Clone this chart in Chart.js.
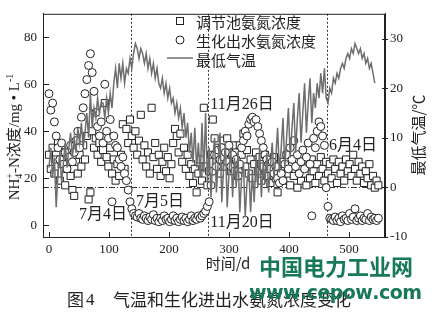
<!DOCTYPE html>
<html>
<head>
<meta charset="utf-8">
<script src="https://cdn.jsdelivr.net/npm/chart.js@4.4.1/dist/chart.umd.min.js"></script>
<style>
  html, body { margin: 0; padding: 0; background: #fff; }
  #wrap { width: 436px; height: 323px; }
</style>
</head>
<body>
<div id="wrap"><canvas id="chart" width="436" height="323"></canvas></div>
<script>
// one reading every 3 days
const dayStep = 3;

// 调节池氨氮浓度, mg/L
const inletNH4 = [
  30, 24, 33, 22, 28, 35, 19, 26, 31, 17,
  24, 29, 21, 15, 12.5, 27, 22, 30, 25, 34,
  28, 38, 11, 14, 40, 33, 37, 30, 35, 27,
  32, 52, 29, 25, 33, 22, 28, 19, 26, 21,
  30, 43, 24, 41, 35, 45, 38, 33, 40, 30,
  36, 47, 28, 34, 25, 31, 22, 50, 29, 35,
  24, 30, 21, 27, 33, 23, 29, 20, 26, 35,
  41, 38, 31, 39, 27, 33, 24, 30, 21, 26,
  18, 24, 14, 22, 28, 19, 50, 25, 17, 23,
  30, 45, 37, 27, 33, 22, 29, 36, 25, 37,
  31, 23, 28, 34, 26, 21, 34, 30, 39, 25,
  32, 22, 28, 20, 26, 31, 23, 29, 19, 25,
  30, 21, 27, 18, 24, 29, 20, 14, 23, 27,
  19, 25, 30, 22, 17, 26, 21, 28, 16, 24,
  19, 27, 22, 17, 25, 20, 28, 23, 18, 26,
  21, 29, 24, 19, 27, 22, 26, 20, 28, 24,
  18, 27, 22, 25, 19, 28, 23, 26, 21, 30,
  24, 19, 27, 22, 25, 18, 23, 20, 26, 17,
  21, 16, 19, 17
];

// 生化出水氨氮浓度, mg/L
const effluentNH4 = [
  56, 49, 52, 44, 38, 33, 28, 35, 26, 31,
  24, 29, 34, 27, 31, 36, 40, 33, 46, 50,
  56, 62, 68, 73, 65, 57, 48, 42, 38, 44,
  35, 60, 40, 37, 45, 10, 38, 34, 33, 28,
  25, 29, 22, 19, 15, 10, 7, 5, 4, 3.5,
  5, 3, 2.5, 4, 3, 2, 3.5, 2.5, 4.5, 2,
  3, 1.5, 3, 2, 4, 2.5, 3, 1.5, 2.5, 4,
  2, 3, 1.5, 2.5, 3.5, 2, 3, 1.5, 2.5, 4,
  2, 3, 2.5, 4, 3, 4, 5, 6, 8, 10,
  17, 23, 30, 25, 32, 28, 33, 29, 31, 27,
  34, 25, 30, 23, 28, 21, 26, 33, 36, 40,
  38, 43, 45, 46, 44, 45, 42, 39, 36, 33,
  30, 28, 26, 24, 27, 22, 25, 20, 18, 22,
  19, 26, 30, 24, 33, 28, 36, 25, 30, 22,
  27, 32, 24, 29, 35, 26, 4, 37, 33, 40,
  44, 42, 38, 34, 16, 8, 3, 2.5, 2, 3.5,
  2, 3, 1.5, 4, 2.5, 3, 2, 5, 2.5, 3.5,
  7, 2, 3, 4, 2, 3, 2.5, 5, 2, 3.5,
  2.5, 3, 2, 3
];

// 最低气温, °C
const minTemp = [
  4, 8, 2, 6, -4, 3, 7, 1, 5, 9,
  4, 8, 11, 6, 10, 7, 12, 9, 13, 8,
  11, 15, 10, 19, 12, 16, 14, 18, 15, 17,
  17, 14, 18, 15, 19, 16, 21, 24, 20, 25,
  22, 25, 21, 24, 23, 26, 24, 27, 29, 28,
  26, 28, 27, 25, 27, 24, 26, 23, 25, 22,
  24, 21, 20, 22, 19, 21, 18, 20, 17, 18,
  15, 17, 14, 16, 12, 15, 10, 13, 7, 11,
  5, 12, 4, 9, 2, 13, 3, 15, 1, 8,
  -2, 6, 10, -1, 5, 11, -3, 4, 9, -4,
  3, 8, -2, 6, 0, 7, -5, 2, 5, -6,
  1, 4, -5, 3, -3, 6, 0, 8, -2, 5,
  1, 7, -1, 4, 9, 2, 6, 12, 3, 8,
  14, 4, 10, 16, 6, 12, 17, 7, 14, 19,
  9, 15, 21, 11, 17, 22, 13, 19, 16, 21,
  18, 23, 19, 24, 18, 17, 20, 19, 22, 21,
  23, 22, 24, 25, 24, 26, 27, 26, 28, 27,
  29, 28, 27, 28, 26, 27, 25, 26, 24, 25,
  23, 21
];

const eventDays = [137, 265, 463];
const xTicks = [0, 100, 200, 300, 400, 500];
const nh4Ticks = [0, 20, 40, 60, 80];
const tempTicks = [-10, 0, 10, 20, 30];

const seriesNames = ["调节池氨氮浓度", "生化出水氨氮浓度", "最低气温"];

const toPoints = arr => arr.map((v, i) => ({ x: i * dayStep, y: v }));

const INK = "#222";
const LINE_GRAY = "#6e6e6e";
const SERIF = "'Liberation Serif', 'Noto Sans CJK SC', serif";
const CJK = "'Noto Sans CJK SC', 'Liberation Serif', sans-serif";

function setTicks(list) {
  return scale => { scale.ticks = list.map(v => ({ value: v })); };
}

const decor = {
  id: "decor",
  beforeDatasetsDraw(chart) {
    const { ctx, chartArea: a, scales } = chart;
    ctx.save();
    ctx.strokeStyle = "#333";
    ctx.lineWidth = 1;
    // event markers
    ctx.setLineDash([2, 2]);
    eventDays.forEach(d => {
      const x = Math.round(scales.x.getPixelForValue(d)) + 0.5;
      ctx.beginPath();
      ctx.moveTo(x, a.top);
      ctx.lineTo(x, a.bottom);
      ctx.stroke();
    });
    // zero temperature
    ctx.setLineDash([6, 2, 1, 2]);
    const y0 = Math.round(scales.yT.getPixelForValue(0)) + 0.5;
    ctx.beginPath();
    ctx.moveTo(a.left, y0);
    ctx.lineTo(a.right, y0);
    ctx.stroke();
    ctx.setLineDash([]);

    // date notes
    ctx.fillStyle = INK;
    ctx.font = "16px " + SERIF;
    ctx.textAlign = "center";
    ctx.textBaseline = "middle";
    [
      ["7月4日", 103, 215],
      ["7月5日", 160, 202],
      ["11月20日", 242, 223],
      ["11月26日", 242, 105],
      ["6月4日", 353, 146]
    ].forEach(([t, x, y]) => ctx.fillText(t, x, y));
    ctx.restore();
  },
  afterDraw(chart) {
    const { ctx, chartArea: a, scales } = chart;
    ctx.save();
    ctx.strokeStyle = INK;
    ctx.lineWidth = 1;
    ctx.strokeRect(a.left + 0.5, a.top + 0.5, a.right - a.left - 1, a.bottom - a.top);

    // inward tick marks
    ctx.beginPath();
    scales.x.ticks.forEach(t => {
      const x = Math.round(scales.x.getPixelForValue(t.value)) + 0.5;
      ctx.moveTo(x, a.bottom);
      ctx.lineTo(x, a.bottom - 5);
    });
    scales.y.ticks.forEach(t => {
      const y = Math.round(scales.y.getPixelForValue(t.value)) + 0.5;
      ctx.moveTo(a.left, y);
      ctx.lineTo(a.left + 6, y);
    });
    scales.yT.ticks.forEach(t => {
      const y = Math.round(scales.yT.getPixelForValue(t.value)) + 0.5;
      ctx.moveTo(a.right - 3, y);
      ctx.lineTo(a.right + 3, y);
    });
    ctx.stroke();

    // legend
    ctx.fillStyle = "#fff";
    ctx.strokeStyle = INK;
    ctx.fillRect(176.5, 17.5, 7, 7);
    ctx.strokeRect(176.5, 17.5, 7, 7);
    ctx.beginPath();
    ctx.arc(180, 40, 4, 0, Math.PI * 2);
    ctx.fill();
    ctx.stroke();
    ctx.strokeStyle = LINE_GRAY;
    ctx.lineWidth = 1.5;
    ctx.beginPath();
    ctx.moveTo(167, 58);
    ctx.lineTo(193, 58);
    ctx.stroke();
    ctx.fillStyle = INK;
    ctx.font = "15px " + CJK;
    ctx.textAlign = "left";
    ctx.textBaseline = "middle";
    seriesNames.forEach((n, i) => ctx.fillText(n, 196, [22, 41, 60][i]));

    // left title with sub/superscripts
    ctx.save();
    ctx.translate(14, 137);
    ctx.rotate(-Math.PI / 2);
    const big = "15px " + SERIF;
    const small = "10px " + SERIF;
    ctx.font = big;
    const w1 = ctx.measureText("NH").width;
    const w3 = ctx.measureText("-N浓度/mg • L").width;
    ctx.font = small;
    const w2 = Math.max(ctx.measureText("4").width, ctx.measureText("+").width);
    const w4 = ctx.measureText("-1").width;
    let x = -(w1 + w2 + w3 + w4) / 2;
    ctx.textAlign = "left";
    ctx.textBaseline = "alphabetic";
    ctx.font = big;
    ctx.fillText("NH", x, 5);
    x += w1;
    ctx.font = small;
    ctx.fillText("4", x, 8);
    ctx.fillText("+", x, -1);
    x += w2;
    ctx.font = big;
    ctx.fillText("-N浓度/mg • L", x, 5);
    x += w3;
    ctx.font = small;
    ctx.fillText("-1", x, -1);
    ctx.restore();

    // right title
    ctx.save();
    ctx.translate(418, 135);
    ctx.rotate(-Math.PI / 2);
    ctx.font = "15px " + CJK;
    ctx.textAlign = "center";
    ctx.textBaseline = "middle";
    ctx.fillText("最低气温/℃", 0, 0);
    ctx.restore();

    // x title
    ctx.font = "15px " + CJK;
    ctx.textAlign = "center";
    ctx.textBaseline = "middle";
    ctx.fillText("时间/d", 228, 263);

    // caption
    ctx.textAlign = "left";
    ctx.font = "17px " + CJK;
    ctx.fillText("图", 67, 300);
    ctx.font = "17px " + SERIF;
    ctx.fillText("4", 86, 301);
    ctx.font = "17px " + CJK;
    ctx.fillText("气温和生化进出水氨氮浓度变化", 113, 300);

    // site watermark
    ctx.fillStyle = "#17785a";
    ctx.font = "bold 22px " + CJK;
    ctx.textAlign = "center";
    ctx.fillText("中国电力工业网", 336, 267);
    ctx.font = "bold 19px 'DejaVu Sans', sans-serif";
    ctx.textAlign = "left";
    const url = "www.cepow.com";
    const widths = [...url].map(c => ctx.measureText(c).width);
    const total = widths.reduce((s, w) => s + w, 0);
    const gap = (173 - total) / (url.length - 1);
    let ux = 249;
    [...url].forEach((c, i) => {
      ctx.fillText(c, ux, 294);
      ux += widths[i] + gap;
    });
    ctx.restore();
  }
};

new Chart(document.getElementById("chart"), {
  type: "scatter",
  data: {
    datasets: [
      {
        label: seriesNames[0],
        data: toPoints(inletNH4),
        yAxisID: "y",
        pointStyle: "rect",
        pointRadius: 5,
        pointBackgroundColor: "#fff",
        pointBorderColor: INK,
        pointBorderWidth: 1,
        order: 3
      },
      {
        label: seriesNames[1],
        data: toPoints(effluentNH4),
        yAxisID: "y",
        pointStyle: "circle",
        pointRadius: 4,
        pointBackgroundColor: "#fff",
        pointBorderColor: INK,
        pointBorderWidth: 1,
        order: 2
      },
      {
        type: "line",
        label: seriesNames[2],
        data: toPoints(minTemp),
        yAxisID: "yT",
        borderColor: LINE_GRAY,
        borderWidth: 1.5,
        pointRadius: 0,
        tension: 0,
        order: 1
      }
    ]
  },
  options: {
    responsive: false,
    animation: false,
    events: [],
    layout: { padding: { top: 11, left: 0, right: 0, bottom: 0 } },
    plugins: { legend: { display: false }, tooltip: { enabled: false } },
    scales: {
      x: {
        type: "linear",
        min: -10,
        max: 560,
        afterBuildTicks: setTicks(xTicks),
        afterFit: s => { s.height = 86; },
        grid: { display: false, drawTicks: false },
        border: { color: INK },
        ticks: { padding: 5, color: INK, maxRotation: 0, font: { family: SERIF, size: 13 } }
      },
      y: {
        position: "left",
        min: -5,
        max: 90,
        afterBuildTicks: setTicks(nh4Ticks),
        afterFit: s => { s.width = 43; },
        grid: { display: false, drawTicks: false },
        border: { color: INK },
        ticks: { padding: 6, color: INK, font: { family: SERIF, size: 13 } }
      },
      yT: {
        position: "right",
        min: -10,
        max: 35,
        afterBuildTicks: setTicks(tempTicks),
        afterFit: s => { s.width = 51; },
        grid: { display: false, drawTicks: false },
        border: { color: INK },
        ticks: { padding: 5, color: INK, font: { family: SERIF, size: 13 } }
      }
    }
  },
  plugins: [decor]
});
</script>
</body>
</html>
